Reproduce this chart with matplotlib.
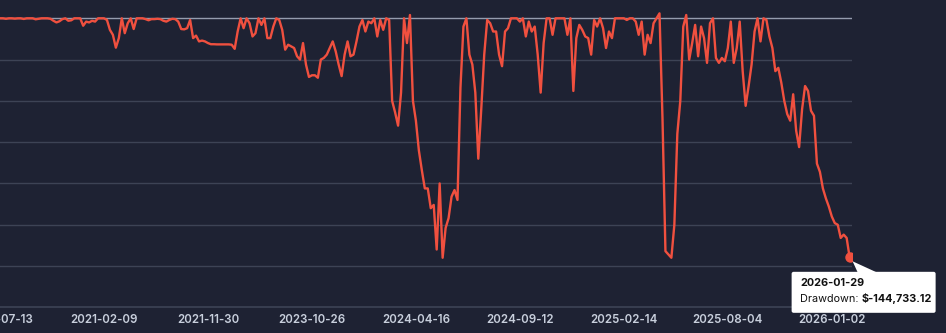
import matplotlib.pyplot as plt
from matplotlib.patches import FancyBboxPatch, Polygon

# x tick labels, one every 35 points
tick_labels = [
    "2020-07-13", "2021-02-09", "2021-11-30", "2023-10-26", "2024-04-16",
    "2024-09-12", "2025-02-14", "2025-08-04", "2026-01-02",
]
tick_step = 35
last_date = "2026-01-29"

# drawdown in thousands of dollars
drawdown_k = [
    0, 0, -0.3, 0, 0, -0.2, 0, 0, -0.4, 0,
    0, 0, -0.6, -0.3, 0, 0, 0, -0.3, -1.5, -2.5,
    -1.8, -0.5, 0, -1.5, -1.2, 0, 0, 0, -4.5, -2,
    -2.5, -1.5, -2, 0, 0, 0, -1, -7, -10, -17.8,
    -12, 0, -9, -3, 0, -6.5, 0, 0, 0, -0.5,
    -1.2, -0.5, -0.5, -0.3, -0.5, -1.5, -2, -1, -0.3, -0.5,
    -2, -6.5, -6.7, -6, -1, -12, -10.5, -14, -13.5, -14,
    -15, -15.7, -15.7, -15.8, -15.8, -15.8, -15.8, -15.8, -16, -18.5,
    -8, 0, -6, 0, -3, -11, -9, 0, -4, 0,
    -12, -12, -5, 0, -1, -7, -19, -16, -17, -18,
    -23, -25, -15, -28, -35.5, -34.5, -34.5, -36, -25, -24,
    -22, -18, -14, -20, -28, -35, -22, -14, -23, -22,
    -14, -5, -1, -8, -2, -3, 0, -11, -1, -7,
    0, -1, -50, -57, -65, -45, 0, -15, 2, -50,
    -62, -80, -92, -103, -103, -115, -113, -140, -100, -145,
    -127, -121, -108, -104, -110, -42, -5, 0, -22, -28,
    -45, -85, -55, -22, -1, -3, -8, -8, -22, -29,
    -8, -6, 0, 0, 0, -2, 0, -11, -2, -8,
    -5, -22, -45, -15, 0, 0, -10, 0, 0, 0,
    0, -10, 0, -44, -12, -4, -7, -11, -12, -22,
    -1, -5, 0, -6, -18, -8, -12, 0, 0, 0,
    0, -1, 0, 0, -2, -10, -2, -22, -10, -15,
    -3, 0, 3, -60, -141, -143, -145, -125, -70, -50,
    -5, 2, -25, -15, -4, -23, -5, -12, -27, -3,
    0, -24, -27, -24, -26, -18, -2, -27, -18, -2,
    -32, -53, -41, -28, -8, 0, -14, 0, -1, -11,
    -18, -32, -30, -39, -50, -58, -62, -46, -68, -78,
    -55, -41, -44, -56, -59, -88, -93, -103, -109, -114,
    -120, -124, -125, -133, -131, -133, -144.73312,
]

BG = "#1e2233"
RED = "#f0503f"


def main():
    values = [v * 1000 for v in drawdown_k]
    idx = list(range(len(values)))

    fig = plt.figure(figsize=(9.46, 3.33), dpi=100)
    fig.patch.set_facecolor(BG)
    ax = fig.add_axes([0, 25.7 / 333, 851.7 / 946, 1 - 25.7 / 333])
    ax.set_facecolor(BG)

    for y in range(-150000, 0, 25000):
        ax.axhline(y, color="#3d4355", lw=1, zorder=1)
    ax.axhline(-175000, color="#3d4355", lw=1.2, zorder=1, clip_on=False)
    ax.axhline(0, color="#959cae", lw=1, zorder=1)

    ax.plot(idx, values, color=RED, lw=1.7, zorder=3, solid_joinstyle="round")
    ax.plot(idx[-1], values[-1], "o", color=RED, ms=6.5, zorder=4)

    ax.set_ylim(-175000, 11080)
    ax.set_xlim(0.34, 286.7)
    ax.set_xticks([i * tick_step for i in range(len(tick_labels))])
    ax.set_xticklabels(tick_labels, fontsize=8.3, fontweight="semibold",
                       color="#c8cfdc", family=["Inter", "DejaVu Sans"])
    ax.tick_params(axis="x", length=0, pad=4.5)
    ax.set_yticks([])
    for s in ax.spines.values():
        s.set_visible(False)

    # tooltip, drawn in pixel space anchored on the last point
    ov = fig.add_axes([0, 0, 1, 1])
    ov.set_xlim(0, 946)
    ov.set_ylim(333, 0)
    ov.axis("off")
    disp = ax.transData.transform((idx[-1], values[-1]))
    tx, ty = disp[0], 333 - disp[1]
    left, right = tx - 58, tx + 86
    top, bottom = ty + 14.5, ty + 55.5
    ov.add_patch(FancyBboxPatch((left, top), right - left, bottom - top,
                                boxstyle="round,pad=0,rounding_size=2",
                                fc="white", ec="none", zorder=5))
    ov.add_patch(Polygon([(tx + 3, ty + 4), (tx + 8, top + 0.5),
                          (tx + 27, top + 0.5)], closed=True,
                         fc="white", ec="none", zorder=5))
    font = ["Inter", "DejaVu Sans"]
    ov.text(left + 8.5, ty + 26, last_date, fontsize=7.8, fontweight="bold",
            color="#111111", va="center", family=font, zorder=6)
    t1 = ov.text(left + 8.5, ty + 41.5, "Drawdown: ", fontsize=7.8,
                 color="#111111", va="center", family=font, zorder=6)
    fig.canvas.draw()
    bb = t1.get_window_extent()
    ov.text(bb.x1, ty + 41.5, f"$-{abs(values[-1]):,.2f}", fontsize=7.8,
            fontweight="bold", color="#111111", va="center", family=font,
            zorder=6)

    fig.savefig("out.png", dpi=100, facecolor=BG)


if __name__ == "__main__":
    main()
